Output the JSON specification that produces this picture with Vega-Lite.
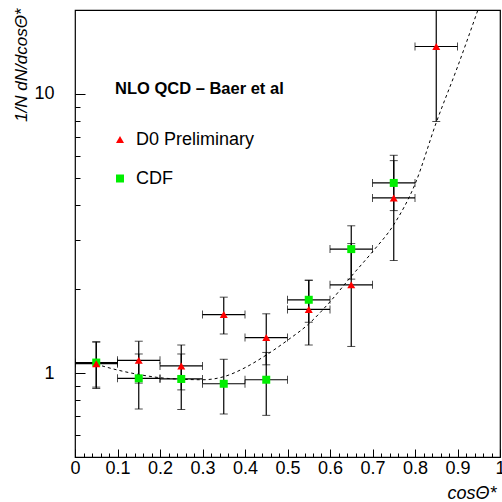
{
  "$schema": "https://vega.github.io/schema/vega-lite/v6.json",
  "width": 425,
  "height": 447,
  "autosize": {"type": "none"},
  "padding": {"left": 75, "top": 10, "right": 2, "bottom": 45},
  "background": "white",
  "config": {
    "font": "Liberation Sans",
    "view": {"stroke": "black", "strokeWidth": 1.2},
    "axis": {"grid": false, "domain": false, "labelColor": "black", "tickColor": "black", "titleColor": "black", "labelFont": "Liberation Sans", "titleFont": "Liberation Sans"}
  },
  "resolve": {"axis": {"x": "independent", "y": "independent"}},
  "datasets": {
    "pts": [
      {"exp": "CDF", "x": 0.05, "y": 1.09, "ylo": 0.88, "yhi": 1.29, "xlo": 0.0, "xhi": 0.1},
      {"exp": "CDF", "x": 0.15, "y": 0.957, "ylo": 0.743, "yhi": 1.17, "xlo": 0.1, "xhi": 0.2},
      {"exp": "CDF", "x": 0.25, "y": 0.952, "ylo": 0.74, "yhi": 1.17, "xlo": 0.2, "xhi": 0.3},
      {"exp": "CDF", "x": 0.35, "y": 0.915, "ylo": 0.713, "yhi": 1.12, "xlo": 0.3, "xhi": 0.4},
      {"exp": "CDF", "x": 0.45, "y": 0.946, "ylo": 0.705, "yhi": 1.185, "xlo": 0.4, "xhi": 0.5},
      {"exp": "CDF", "x": 0.55, "y": 1.83, "ylo": 1.52, "yhi": 2.15, "xlo": 0.5, "xhi": 0.6},
      {"exp": "CDF", "x": 0.65, "y": 2.78, "ylo": 2.17, "yhi": 3.37, "xlo": 0.6, "xhi": 0.7},
      {"exp": "CDF", "x": 0.75, "y": 4.8, "ylo": 3.82, "yhi": 5.77, "xlo": 0.7, "xhi": 0.8},
      {"exp": "D0 Preliminary", "x": 0.05, "y": 1.08, "ylo": 0.89, "yhi": 1.295, "xlo": 0.0, "xhi": 0.1},
      {"exp": "D0 Preliminary", "x": 0.15, "y": 1.11, "ylo": 0.92, "yhi": 1.3, "xlo": 0.1, "xhi": 0.2},
      {"exp": "D0 Preliminary", "x": 0.25, "y": 1.06, "ylo": 0.87, "yhi": 1.26, "xlo": 0.2, "xhi": 0.3},
      {"exp": "D0 Preliminary", "x": 0.35, "y": 1.62, "ylo": 1.38, "yhi": 1.87, "xlo": 0.3, "xhi": 0.4},
      {"exp": "D0 Preliminary", "x": 0.45, "y": 1.34, "ylo": 1.07, "yhi": 1.63, "xlo": 0.4, "xhi": 0.5},
      {"exp": "D0 Preliminary", "x": 0.55, "y": 1.69, "ylo": 1.26, "yhi": 2.15, "xlo": 0.5, "xhi": 0.6},
      {"exp": "D0 Preliminary", "x": 0.65, "y": 2.07, "ylo": 1.245, "yhi": 2.91, "xlo": 0.6, "xhi": 0.7},
      {"exp": "D0 Preliminary", "x": 0.75, "y": 4.24, "ylo": 2.53, "yhi": 6.03, "xlo": 0.7, "xhi": 0.8},
      {"exp": "D0 Preliminary", "x": 0.85, "y": 14.8, "ylo": 7.97, "yhi": 21.7, "xlo": 0.8, "xhi": 0.9}
    ],
    "curve": [
      {"x": 0.05, "y": 1.075},
      {"x": 0.1, "y": 1.025},
      {"x": 0.15, "y": 0.988},
      {"x": 0.2, "y": 0.962},
      {"x": 0.25, "y": 0.95},
      {"x": 0.3, "y": 0.946},
      {"x": 0.35, "y": 0.97},
      {"x": 0.4, "y": 1.045},
      {"x": 0.45, "y": 1.16},
      {"x": 0.5, "y": 1.31},
      {"x": 0.55, "y": 1.5},
      {"x": 0.6, "y": 1.8},
      {"x": 0.65, "y": 2.22},
      {"x": 0.7, "y": 2.72},
      {"x": 0.75, "y": 3.4},
      {"x": 0.8, "y": 4.75},
      {"x": 0.85, "y": 7.9},
      {"x": 0.9, "y": 12.5},
      {"x": 0.948, "y": 20}
    ]
  },
  "layer": [
    {
      "data": {"name": "pts"},
      "mark": {"type": "point", "filled": true, "opacity": 0, "size": 1},
      "encoding": {
        "x": {
          "field": "x", "type": "quantitative",
          "scale": {"domain": [0, 1], "nice": false, "zero": false},
          "axis": {
            "orient": "bottom",
            "title": "cosΘ*",
            "values": [0, 0.1, 0.2, 0.3, 0.4, 0.5, 0.6, 0.7, 0.8, 0.9, 1],
            "format": "~g",
            "labelOverlap": false,
            "labelFlush": false,
            "labelFontSize": 18,
            "labelPadding": 10,
            "tickSize": -8,
            "tickWidth": 1,
            "titleFontSize": 18,
            "titleFontStyle": "italic",
            "titleFontWeight": "normal",
            "titleAnchor": "end",
            "titleAlign": "right",
            "titleBaseline": "alphabetic",
            "titleX": 421,
            "titleY": 41
          }
        },
        "y": {
          "field": "y", "type": "quantitative",
          "scale": {"type": "log", "domain": [0.5, 20], "nice": false},
          "axis": {
            "orient": "left",
            "title": "1/N dN/dcosΘ*",
            "values": [1, 10],
            "format": "~g",
            "labelOverlap": false,
            "labelFlush": false,
            "labelFontSize": 18,
            "labelPadding": 31,
            "tickSize": -10,
            "tickWidth": 1,
            "titleFontSize": 17,
            "titleFontStyle": "italic",
            "titleFontWeight": "normal",
            "titleAngle": 270,
            "titleAlign": "right",
            "titleBaseline": "alphabetic",
            "titleX": -49,
            "titleY": -2
          }
        }
      }
    },
    {
      "data": {"name": "pts"},
      "mark": {"type": "point", "filled": true, "opacity": 0, "size": 1},
      "encoding": {
        "x": {
          "field": "x", "type": "quantitative",
          "axis": {
            "orient": "top",
            "offset": -447,
            "title": null,
            "labels": false,
            "values": [0.02, 0.04, 0.06, 0.08, 0.12, 0.14, 0.16, 0.18, 0.22, 0.24, 0.26, 0.28, 0.32, 0.34, 0.36, 0.38, 0.42, 0.44, 0.46, 0.48, 0.52, 0.54, 0.56, 0.58, 0.62, 0.64, 0.66, 0.68, 0.72, 0.74, 0.76, 0.78, 0.82, 0.84, 0.86, 0.88, 0.92, 0.94, 0.96, 0.98],
            "tickSize": 4,
            "tickWidth": 1
          }
        },
        "y": {
          "field": "y", "type": "quantitative",
          "axis": {
            "orient": "right",
            "offset": -425,
            "title": null,
            "labels": false,
            "values": [0.6, 0.7, 0.8, 0.9, 2, 3, 4, 5, 6, 7, 8, 9],
            "tickSize": 5,
            "tickWidth": 1
          }
        }
      }
    },
    {
      "data": {"name": "curve"},
      "mark": {"type": "line", "color": "black", "strokeWidth": 1, "strokeDash": [3, 3], "interpolate": "monotone", "clip": true},
      "encoding": {
        "x": {"field": "x", "type": "quantitative", "axis": null},
        "y": {"field": "y", "type": "quantitative", "axis": null}
      }
    },
    {
      "data": {"name": "pts"},
      "mark": {"type": "errorbar", "color": "black", "clip": true, "ticks": {"size": 8, "color": "black"}, "rule": {"strokeWidth": 1.2}},
      "encoding": {
        "x": {"field": "x", "type": "quantitative", "axis": null},
        "y": {"field": "ylo", "type": "quantitative", "axis": null},
        "y2": {"field": "yhi"}
      }
    },
    {
      "data": {"name": "pts"},
      "mark": {"type": "errorbar", "color": "black", "clip": true, "ticks": {"size": 8, "color": "black"}, "rule": {"strokeWidth": 1.2}},
      "encoding": {
        "y": {"field": "y", "type": "quantitative", "axis": null},
        "x": {"field": "xlo", "type": "quantitative", "axis": null},
        "x2": {"field": "xhi"}
      }
    },
    {
      "data": {"name": "pts"},
      "mark": {"type": "point", "filled": true, "opacity": 1, "size": 64, "strokeWidth": 0},
      "encoding": {
        "x": {"field": "x", "type": "quantitative", "axis": null},
        "y": {"field": "y", "type": "quantitative", "axis": null},
        "shape": {
          "field": "exp", "type": "nominal",
          "scale": {"domain": ["D0 Preliminary", "CDF"], "range": ["triangle-up", "square"]},
          "legend": {
            "title": "NLO QCD – Baer et al",
            "orient": "none",
            "legendX": 40,
            "legendY": 71,
            "padding": 0,
            "titleFont": "Liberation Sans",
            "titleFontSize": 16.5,
            "titleFontWeight": "bold",
            "titleColor": "black",
            "titlePadding": 33,
            "labelFont": "Liberation Sans",
            "labelFontSize": 18,
            "labelColor": "black",
            "labelOffset": 7,
            "symbolOffset": -4,
            "rowPadding": 21,
            "symbolSize": 64,
            "symbolStrokeWidth": 0
          }
        },
        "color": {
          "field": "exp", "type": "nominal",
          "scale": {"domain": ["D0 Preliminary", "CDF"], "range": ["#ff0000", "#00ee00"]},
          "legend": {
            "title": "NLO QCD – Baer et al",
            "orient": "none",
            "legendX": 40,
            "legendY": 71,
            "padding": 0,
            "titleFont": "Liberation Sans",
            "titleFontSize": 16.5,
            "titleFontWeight": "bold",
            "titleColor": "black",
            "titlePadding": 33,
            "labelFont": "Liberation Sans",
            "labelFontSize": 18,
            "labelColor": "black",
            "labelOffset": 7,
            "symbolOffset": -4,
            "rowPadding": 21,
            "symbolSize": 64,
            "symbolStrokeWidth": 0
          }
        }
      }
    }
  ]
}
